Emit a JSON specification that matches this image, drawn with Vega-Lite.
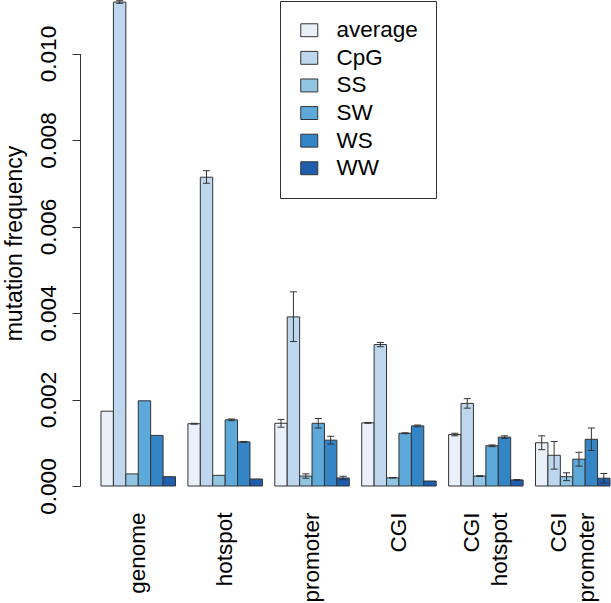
{
  "$schema": "https://vega.github.io/schema/vega-lite/v6.json",
  "width": 531,
  "height": 486,
  "autosize": {"type": "none"},
  "padding": {"left": 80, "top": 0, "right": 0, "bottom": 117},
  "background": "white",
  "config": {
    "font": "Liberation Sans",
    "view": {"stroke": null}
  },
  "data": {
    "values": [
      {"group": "genome", "type": "average", "value": 0.00173, "lo": null, "hi": null},
      {"group": "genome", "type": "CpG", "value": 0.01119, "lo": 0.01116, "hi": 0.01122},
      {"group": "genome", "type": "SS", "value": 0.00028, "lo": null, "hi": null},
      {"group": "genome", "type": "SW", "value": 0.00197, "lo": null, "hi": null},
      {"group": "genome", "type": "WS", "value": 0.00117, "lo": null, "hi": null},
      {"group": "genome", "type": "WW", "value": 0.000215, "lo": null, "hi": null},
      {"group": "hotspot", "type": "average", "value": 0.00144, "lo": 0.00143, "hi": 0.00145},
      {"group": "hotspot", "type": "CpG", "value": 0.00714, "lo": 0.00700, "hi": 0.00729},
      {"group": "hotspot", "type": "SS", "value": 0.000247, "lo": null, "hi": null},
      {"group": "hotspot", "type": "SW", "value": 0.00153, "lo": 0.00151, "hi": 0.00155},
      {"group": "hotspot", "type": "WS", "value": 0.00102, "lo": 0.00101, "hi": 0.00103},
      {"group": "hotspot", "type": "WW", "value": 0.000162, "lo": null, "hi": null},
      {"group": "promoter", "type": "average", "value": 0.00145, "lo": 0.00136, "hi": 0.00154},
      {"group": "promoter", "type": "CpG", "value": 0.00391, "lo": 0.00334, "hi": 0.00449},
      {"group": "promoter", "type": "SS", "value": 0.00023, "lo": 0.00018, "hi": 0.00028},
      {"group": "promoter", "type": "SW", "value": 0.00145, "lo": 0.00134, "hi": 0.00156},
      {"group": "promoter", "type": "WS", "value": 0.00106, "lo": 0.00097, "hi": 0.00115},
      {"group": "promoter", "type": "WW", "value": 0.000185, "lo": 0.000145, "hi": 0.000225},
      {"group": "CGI", "type": "average", "value": 0.00146, "lo": 0.00145, "hi": 0.00147},
      {"group": "CGI", "type": "CpG", "value": 0.00327, "lo": 0.00322, "hi": 0.00332},
      {"group": "CGI", "type": "SS", "value": 0.00019, "lo": 0.000185, "hi": 0.000195},
      {"group": "CGI", "type": "SW", "value": 0.00122, "lo": 0.00121, "hi": 0.00123},
      {"group": "CGI", "type": "WS", "value": 0.00139, "lo": 0.00137, "hi": 0.00141},
      {"group": "CGI", "type": "WW", "value": 0.000115, "lo": null, "hi": null},
      {"group": "CGI\nhotspot", "type": "average", "value": 0.00119, "lo": 0.00116, "hi": 0.00122},
      {"group": "CGI\nhotspot", "type": "CpG", "value": 0.00191, "lo": 0.00180, "hi": 0.00202},
      {"group": "CGI\nhotspot", "type": "SS", "value": 0.00023, "lo": 0.00022, "hi": 0.00024},
      {"group": "CGI\nhotspot", "type": "SW", "value": 0.00093, "lo": 0.00091, "hi": 0.00095},
      {"group": "CGI\nhotspot", "type": "WS", "value": 0.00113, "lo": 0.00110, "hi": 0.00116},
      {"group": "CGI\nhotspot", "type": "WW", "value": 0.00014, "lo": 0.00013, "hi": 0.00015},
      {"group": "CGI\npromoter", "type": "average", "value": 0.00100, "lo": 0.00084, "hi": 0.00116},
      {"group": "CGI\npromoter", "type": "CpG", "value": 0.00071, "lo": 0.00039, "hi": 0.00103},
      {"group": "CGI\npromoter", "type": "SS", "value": 0.000215, "lo": 0.000125, "hi": 0.000305},
      {"group": "CGI\npromoter", "type": "SW", "value": 0.00062, "lo": 0.00046, "hi": 0.00078},
      {"group": "CGI\npromoter", "type": "WS", "value": 0.00108, "lo": 0.00082, "hi": 0.00134},
      {"group": "CGI\npromoter", "type": "WW", "value": 0.00018, "lo": 0.00007, "hi": 0.00029}
    ]
  },
  "encoding": {
    "x": {
      "field": "group",
      "type": "nominal",
      "sort": null,
      "scale": {"paddingInner": 0.142857, "paddingOuter": 0.12658, "align": 0.9545},
      "axis": {
        "title": null,
        "domain": false,
        "ticks": false,
        "labelAngle": -90,
        "labelAlign": "right",
        "labelBaseline": "middle",
        "labelPadding": 26,
        "labelFontSize": 22.5,
        "labelColor": "black",
        "labelLineHeight": 28,
        "labelOffset": {"condition": {"test": "indexof(datum.value, '\\n') >= 0", "value": -14}, "value": 0},
        "labelExpr": "split(datum.label, '\\n')"
      }
    },
    "xOffset": {
      "field": "type",
      "type": "nominal",
      "scale": {"domain": ["average", "CpG", "SS", "SW", "WS", "WW"], "paddingInner": 0, "paddingOuter": 0}
    }
  },
  "layer": [
    {
      "mark": {"type": "bar", "stroke": "#333333", "strokeWidth": 1, "opacity": 1},
      "encoding": {
        "y": {
          "field": "value",
          "type": "quantitative",
          "scale": {"domain": [0, 0.011237], "nice": false, "zero": true},
          "axis": {
            "values": [0, 0.002, 0.004, 0.006, 0.008, 0.01],
            "format": ".3f",
            "grid": false,
            "domainColor": "#333333",
            "domainDash": [432.5, 200],
            "tickColor": "#333333",
            "tickSize": 8,
            "labelAngle": -90,
            "labelAlign": "center",
            "labelBaseline": "bottom",
            "labelPadding": 12,
            "labelFontSize": 22.5,
            "labelColor": "black",
            "title": "mutation frequency",
            "titleFontSize": 23,
            "titleFontWeight": "normal",
            "titleColor": "black",
            "titlePadding": 11
          }
        },
        "color": {
          "field": "type",
          "type": "nominal",
          "scale": {
            "domain": ["average", "CpG", "SS", "SW", "WS", "WW"],
            "range": ["#EAF0FA", "#BED7EE", "#92C5E2", "#5DA9D9", "#3485C6", "#1F5DAD"]
          },
          "legend": {
            "title": null,
            "orient": "none",
            "legendX": 200,
            "legendY": 1,
            "strokeColor": "#333333",
            "fillColor": "white",
            "padding": 18,
            "symbolType": "M-1,-0.76H1V0.76H-1Z",
            "symbolSize": 289,
            "symbolStrokeColor": "#333333",
            "symbolStrokeWidth": 1,
            "symbolOpacity": 1,
            "labelFontSize": 22.5,
            "labelColor": "black",
            "labelOffset": 16,
            "rowPadding": 4.6
          }
        }
      }
    },
    {
      "transform": [{"filter": "isValid(datum.lo)"}],
      "mark": {"type": "rule", "color": "#333333", "strokeWidth": 1},
      "encoding": {
        "y": {"field": "lo", "type": "quantitative"},
        "y2": {"field": "hi"}
      }
    },
    {
      "transform": [{"filter": "isValid(datum.lo)"}],
      "mark": {"type": "tick", "color": "#333333", "thickness": 1, "size": 7, "opacity": 1},
      "encoding": {
        "y": {"field": "lo", "type": "quantitative"}
      }
    },
    {
      "transform": [{"filter": "isValid(datum.lo)"}],
      "mark": {"type": "tick", "color": "#333333", "thickness": 1, "size": 7, "opacity": 1},
      "encoding": {
        "y": {"field": "hi", "type": "quantitative"}
      }
    }
  ]
}
